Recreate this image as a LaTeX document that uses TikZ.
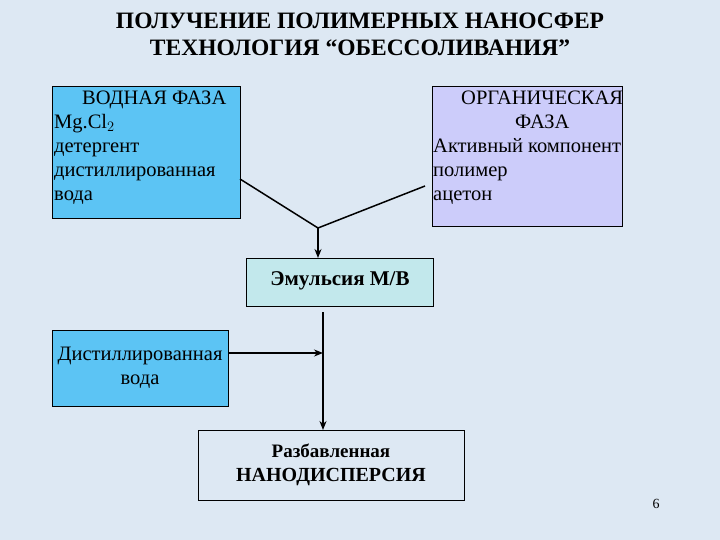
\documentclass[tikz,border=0pt]{standalone}
\usepackage{fontspec}
\setmainfont{Liberation Serif}
\usetikzlibrary{arrows.meta}
\definecolor{bg}{HTML}{DDE8F3}
\definecolor{bluebox}{HTML}{5CC4F4}
\definecolor{lavbox}{HTML}{CCCCFA}
\definecolor{tealbox}{HTML}{C2E8EC}
\tikzset{box/.style={draw=black,line width=0.8pt},
 conn/.style={line width=1.5pt},
 arr/.style={conn,-{Stealth[length=9pt,width=7pt]}},
 txt/.style={font=\fontsize{20.5}{24}\selectfont}}
\begin{document}
\begin{tikzpicture}[x=1pt,y=-1pt]
\fill[bg] (0,0) rectangle (720,540);
\useasboundingbox (0,0) rectangle (720,540);
\node[font=\bfseries\fontsize{23.5}{27}\selectfont,align=center] (title) at (360,34) {ПОЛУЧЕНИЕ ПОЛИМЕРНЫХ НАНОСФЕР\\ТЕХНОЛОГИЯ “ОБЕССОЛИВАНИЯ”};
\draw[box,fill=bluebox] (52,86) rectangle (240,218);
\node[txt,anchor=north west,align=left,inner sep=0pt] (aq) at (54,91) {\hspace*{28pt}ВОДНАЯ ФАЗА\\Mg.Cl$_2$\\детергент\\дистиллированная\\вода};
\draw[box,fill=lavbox] (432,86) rectangle (622,226);
\node[txt,anchor=north west,align=left,inner sep=0pt] (org) at (433,91) {\hspace*{28pt}ОРГАНИЧЕСКАЯ\\\hspace*{82pt}ФАЗА\\Активный компонент\\полимер\\ацетон};
\coordinate (a1) at (240,179);
\coordinate (a2) at (425,186);
\coordinate (j) at (318,228);
\draw[box,fill=tealbox] (246,258) rectangle (433,306);
\node[font=\bfseries\fontsize{21}{24}\selectfont] (em) at (340,281) {Эмульсия М/В};
\draw[conn] (a1) -- (j);
\draw[conn] (a2) -- (j);
\draw[arr] (j) -- (318,258);
\draw[box,fill=bluebox] (52,330) rectangle (228,406);
\node[txt,align=center] (dw) at (140,368) {Дистиллированная\\вода};
\draw[box,fill=bg] (198,430) rectangle (464,500);
\node[align=center,font=\bfseries\fontsize{20}{24}\selectfont] (nd) at (331,465) {\fontsize{19}{24}\selectfont Разбавленная\\НАНОДИСПЕРСИЯ};
\coordinate (v1) at (323,312);
\coordinate (v2) at (323,353);
\draw[arr] (v1) -- (323,430);
\draw[arr] (228,353) -- (v2);
\node[font=\fontsize{14}{16}\selectfont] (pg) at (656,504) {6};
\end{tikzpicture}
\end{document}
